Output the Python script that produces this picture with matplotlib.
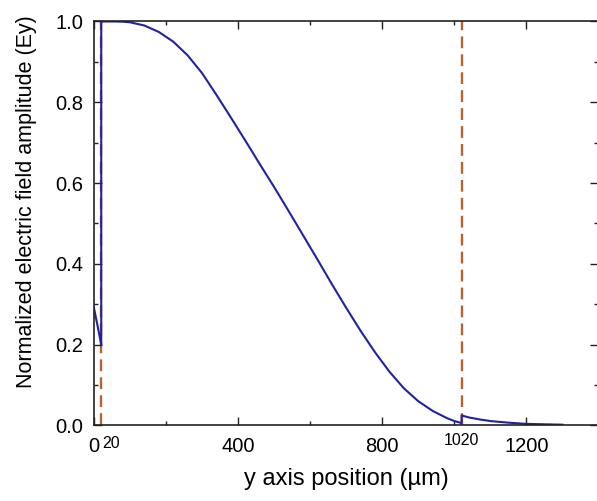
import numpy as np
import matplotlib
matplotlib.use("Agg")
import matplotlib.pyplot as plt
import matplotlib.transforms as mtransforms
from matplotlib.ticker import FixedLocator, FormatStrFormatter

plt.rcParams["font.family"] = ["Liberation Sans", "DejaVu Sans"]

# ── data ──────────────────────────────────────────────────────────────────────
# left cladding (0-20 um)
y_left  = [0, 5, 10, 15, 20]
ey_left = [0.290, 0.268, 0.246, 0.223, 0.200]

# core (20-1020 um)
y_core  = [20, 40, 60, 80, 100, 140, 180, 220, 260, 300, 340, 380, 420,
           460, 500, 540, 580, 620, 660, 700, 740, 780, 820, 860, 900,
           940, 980, 1000, 1020]
ey_core = [1.000, 1.000, 1.000, 0.9995, 0.998, 0.990, 0.974, 0.950, 0.916,
           0.872, 0.818, 0.762, 0.705, 0.647, 0.590, 0.531, 0.471, 0.411,
           0.350, 0.291, 0.234, 0.181, 0.133, 0.092, 0.060, 0.036, 0.018,
           0.011, 0.006]

# right cladding (1020-1300 um)
y_right  = [1020, 1040, 1070, 1100, 1150, 1200, 1250, 1300]
ey_right = [0.025, 0.020, 0.015, 0.011, 0.007, 0.004, 0.003, 0.002]

boundaries = [20, 1020]
major_xticks = [0, 400, 800, 1200]
minor_xticks = [200, 600, 1000]

LINE_COL = "#2222a0"
DASH_COL = "#b3652f"

y_all  = y_left + y_core + y_right
ey_all = ey_left + ey_core + ey_right

# ── figure ────────────────────────────────────────────────────────────────────
fig = plt.figure(figsize=(5.97, 5.01), dpi=100)
ax = fig.add_axes([0.1575, 0.1507, 0.845, 0.8064])

for b in boundaries:
    ax.axvline(b, color=DASH_COL, lw=1.7, ls=(0, (5, 2.6)), zorder=1)
ax.plot(y_all, ey_all, color=LINE_COL, lw=1.5, zorder=2)

ax.set_xlim(0, 1400)
ax.set_ylim(0, 1.0)
ax.xaxis.set_major_locator(FixedLocator(major_xticks))
ax.xaxis.set_minor_locator(FixedLocator(minor_xticks))
ax.set_yticks(np.arange(0, 1.01, 0.2))
ax.set_yticks(np.arange(0.1, 1.0, 0.2), minor=True)
ax.yaxis.set_major_formatter(FormatStrFormatter("%.1f"))

ax.tick_params(which="both", direction="in", top=True, right=True,
               labelsize=14.5, width=1.0, color="#222222")
ax.tick_params(which="major", length=6, pad=8)
ax.tick_params(which="minor", length=3)
for sp in ax.spines.values():
    sp.set_linewidth(1.2)
    sp.set_color("#222222")

# small labels at the interface positions
trans = mtransforms.blended_transform_factory(ax.transData, ax.transAxes)
ax.text(22, -0.027, "20", transform=trans, ha="left", va="top", fontsize=11.5)
ax.text(1020, -0.018, "1020", transform=trans, ha="center", va="top", fontsize=11.5)

ax.set_xlabel("y axis position (\u00b5m)", fontsize=17, labelpad=9)
ax.set_ylabel("Normalized electric field amplitude (Ey)", fontsize=15.5)
ax.yaxis.set_label_coords(-0.113, 0.553)

fig.savefig("out.png", dpi=100)
